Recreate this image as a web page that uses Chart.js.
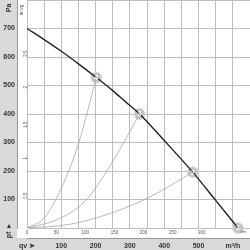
<!DOCTYPE html>
<html>
<head>
<meta charset="utf-8">
<script src="https://cdn.jsdelivr.net/npm/chart.js@4"></script>
<style>
  html, body { margin: 0; padding: 0; background: #fff; }
  #wrap { width: 250px; height: 250px; }
</style>
</head>
<body>
<div id="wrap"><canvas id="fanChart" width="250" height="250"></canvas></div>
<script>
// fan curve: flow qv in m3/h, static pressure pf in Pa
const fanFlow = [0, 50, 100, 150, 202, 250, 287, 328, 400, 483, 550, 615];
const fanPressure = [700, 661, 620, 576, 528, 482, 443, 400, 307, 196, 97, 0];

// system curves through the operating points
const sys4Flow = [0, 50, 100, 150, 202];
const sys4Pressure = [0, 35, 140, 295, 528];
const sys3Flow = [0, 85, 170, 252, 328];
const sys3Pressure = [0, 28, 95, 238, 400];
const sys2Flow = [0, 120, 240, 360, 483];
const sys2Pressure = [0, 12, 50, 110, 196];

// operating points
const opLabels = ['1', '2', '3', '4'];
const opFlow = [615, 483, 328, 202];
const opPressure = [0, 196, 400, 528];

const M3H_TO_CFM = 0.5886;
const PA_TO_INWG = 1 / 249.089;
const xMax = 650;
const yMax = 800;

const toPts = (xs, ys) => xs.map((x, i) => ({ x: x, y: ys[i] }));

const sysStyle = {
    borderColor: '#a8a8a8',
    borderWidth: 0.8,
    pointRadius: 0,
    tension: 0.4,
    cubicInterpolationMode: 'monotone'
};

const noPadH = (h) => (s) => { s.height = h; s.paddingLeft = 0; s.paddingRight = 0; };
const noPadV = (w) => (s) => { s.width = w; s.paddingTop = 0; s.paddingBottom = 0; };

const bgPlugin = {
    id: 'panels',
    beforeDraw(chart) {
        const ctx = chart.ctx;
        ctx.save();
        ctx.fillStyle = '#d9d9d9';
        ctx.fillRect(0, 0, 17, 250);
        ctx.fillRect(0, 238, 250, 12);
        ctx.restore();
    },
    afterDraw(chart) {
        const ctx = chart.ctx;
        const meta = chart.getDatasetMeta(4);
        ctx.save();
        ctx.fillStyle = '#fff';
        ctx.font = 'bold 7px "Liberation Sans", Arial, sans-serif';
        ctx.textAlign = 'center';
        ctx.textBaseline = 'middle';
        meta.data.forEach((pt, i) => {
            ctx.fillText(opLabels[i], pt.x, pt.y + 0.5);
        });
        // axis names
        ctx.fillStyle = '#333';
        ctx.save();
        ctx.translate(9, 8);
        ctx.rotate(-Math.PI / 2);
        ctx.fillText('Pa', 0, 0);
        ctx.restore();
        ctx.fillText('▲', 9, 226);
        ctx.save();
        ctx.translate(9, 235);
        ctx.rotate(-Math.PI / 2);
        ctx.fillText('pf', 0, 0);
        ctx.restore();
        ctx.fillStyle = '#555';
        ctx.font = '4.5px "Liberation Sans", Arial, sans-serif';
        ctx.save();
        ctx.translate(22, 10);
        ctx.rotate(-Math.PI / 2);
        ctx.fillText('in wg', 0, 0);
        ctx.restore();
        ctx.font = '4px "Liberation Sans", Arial, sans-serif';
        ctx.fillText('cfm', 243, 232);
        ctx.restore();
    }
};

new Chart(document.getElementById('fanChart'), {
    type: 'line',
    data: {
        datasets: [
            Object.assign({ data: toPts(sys4Flow, sys4Pressure) }, sysStyle),
            Object.assign({ data: toPts(sys3Flow, sys3Pressure) }, sysStyle),
            Object.assign({ data: toPts(sys2Flow, sys2Pressure) }, sysStyle),
            {
                data: toPts(fanFlow, fanPressure),
                borderColor: '#222',
                borderWidth: 1.4,
                pointRadius: 0,
                tension: 0.4,
                cubicInterpolationMode: 'monotone'
            },
            {
                data: toPts(opFlow, opPressure),
                showLine: false,
                clip: false,
                pointRadius: 5.5,
                pointBackgroundColor: '#c4c4c4',
                pointBorderColor: '#dedede',
                pointBorderWidth: 1
            }
        ]
    },
    options: {
        responsive: false,
        animation: false,
        events: [],
        layout: { padding: 0, autoPadding: false },
        plugins: { legend: { display: false }, tooltip: { enabled: false } },
        scales: {
            x: {
                type: 'linear',
                position: 'bottom',
                weight: 2,
                min: 0,
                max: xMax,
                afterFit: noPadH(12),
                grid: { color: '#bdbdbd', lineWidth: 1, drawTicks: false },
                border: { color: '#999' },
                ticks: {
                    stepSize: 50,
                    padding: 4,
                    color: '#333',
                    font: { size: 7, weight: 'bold', family: '"Liberation Sans", Arial, sans-serif' },
                    maxRotation: 0,
                    autoSkip: false,
                    callback: (v) => {
                        if (v === 0) return 'qv ➤';
                        if (v === 600) return 'm³/h';
                        return (v % 100 === 0 && v <= 500) ? String(v) : '';
                    }
                }
            },
            x2: {
                type: 'linear',
                position: 'bottom',
                weight: 1,
                min: 0,
                max: xMax * M3H_TO_CFM,
                afterFit: noPadH(10),
                grid: { display: false, drawTicks: false },
                border: { display: false },
                ticks: {
                    stepSize: 50,
                    padding: 2,
                    color: '#555',
                    font: { size: 4.5, family: '"Liberation Sans", Arial, sans-serif' },
                    maxRotation: 0,
                    autoSkip: false,
                    callback: (v) => (v % 50 === 0 && v <= 300) ? String(v) : ''
                }
            },
            y: {
                type: 'linear',
                position: 'left',
                weight: 2,
                min: 0,
                max: yMax,
                afterFit: noPadV(17),
                grid: { color: '#bdbdbd', lineWidth: 1, drawTicks: false },
                border: { color: '#999' },
                ticks: {
                    stepSize: 100,
                    padding: 2,
                    color: '#333',
                    font: { size: 7, weight: 'bold', family: '"Liberation Sans", Arial, sans-serif' },
                    callback: (v) => (v > 0 && v < 800) ? String(v) : ''
                }
            },
            y2: {
                type: 'linear',
                position: 'left',
                weight: 1,
                min: 0,
                max: yMax * PA_TO_INWG,
                afterFit: noPadV(10),
                grid: { display: false, drawTicks: false },
                border: { display: false },
                ticks: {
                    stepSize: 0.5,
                    padding: 1,
                    color: '#555',
                    minRotation: 90,
                    maxRotation: 90,
                    autoSkip: false,
                    font: { size: 4.5, family: '"Liberation Sans", Arial, sans-serif' },
                    callback: (v) => (v > 0 && v < 3) ? String(v) : ''
                }
            }
        }
    },
    plugins: [bgPlugin]
});
</script>
</body>
</html>
